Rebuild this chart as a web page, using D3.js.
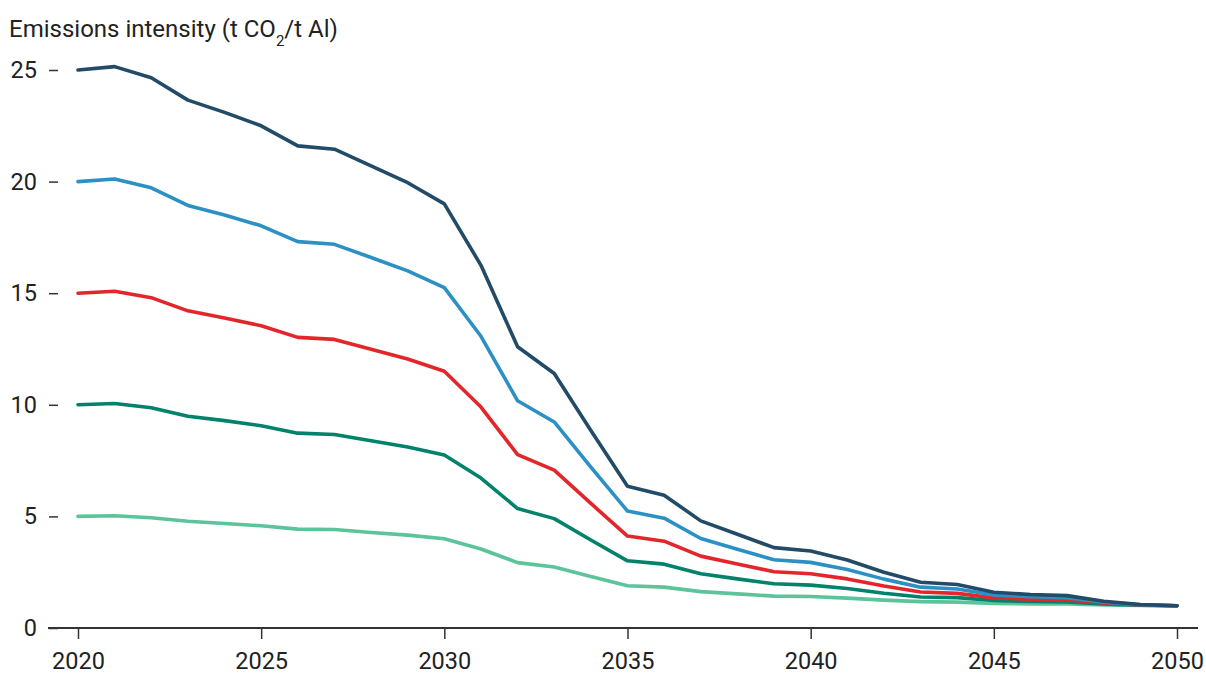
<!DOCTYPE html>
<html lang="en">
<head>
<meta charset="UTF-8">
<title>Emissions intensity</title>
<script src="https://d3js.org/d3.v7.min.js"></script>
<style>
  body { margin: 0; background: #fff; overflow: hidden; }
  text { font-family: Roboto, "Noto Sans", sans-serif; fill: #222; }
  .axis-title { font-size: 24px; }
  .tick-label { font-size: 23.5px; }
</style>
</head>
<body>
<svg id="chart"></svg>
<script>
const years = d3.range(2020, 2051);
const yTicks = [0, 5, 10, 15, 20, 25];
const xTicks = [2020, 2025, 2030, 2035, 2040, 2045, 2050];

const s25 = [25.0, 25.15, 24.65, 23.65, 23.1, 22.5, 21.6, 21.45, 20.7, 19.95, 19.0, 16.25, 12.6, 11.4, 8.85, 6.35, 5.95, 4.8, 4.2, 3.6, 3.45, 3.05, 2.5, 2.05, 1.95, 1.6, 1.5, 1.45, 1.2, 1.05, 1.0];
const s20 = [20.0, 20.12, 19.72, 18.93, 18.5, 18.02, 17.31, 17.19, 16.6, 16.0, 15.25, 13.07, 10.18, 9.23, 7.21, 5.24, 4.92, 4.01, 3.53, 3.06, 2.94, 2.62, 2.19, 1.83, 1.75, 1.48, 1.4, 1.36, 1.16, 1.04, 1.0];
const s15 = [15.0, 15.09, 14.8, 14.21, 13.89, 13.54, 13.02, 12.93, 12.49, 12.05, 11.5, 9.9, 7.77, 7.07, 5.58, 4.12, 3.89, 3.22, 2.87, 2.52, 2.43, 2.2, 1.88, 1.61, 1.55, 1.35, 1.29, 1.26, 1.12, 1.03, 1.0];
const s10 = [10.0, 10.06, 9.87, 9.49, 9.29, 9.06, 8.73, 8.67, 8.39, 8.11, 7.75, 6.72, 5.35, 4.9, 3.94, 3.01, 2.86, 2.43, 2.2, 1.98, 1.92, 1.77, 1.56, 1.39, 1.36, 1.23, 1.19, 1.17, 1.08, 1.02, 1.0];
const s5 = [5.0, 5.03, 4.94, 4.78, 4.68, 4.58, 4.43, 4.41, 4.28, 4.16, 4.0, 3.54, 2.93, 2.73, 2.31, 1.89, 1.83, 1.63, 1.53, 1.43, 1.41, 1.34, 1.25, 1.18, 1.16, 1.1, 1.08, 1.08, 1.03, 1.01, 1.0];

// drawn bottom-up so the dark line sits on top where they converge
const series = [
  { values: s5, color: "#5cc49b" },
  { values: s10, color: "#00836a" },
  { values: s15, color: "#e3262b" },
  { values: s20, color: "#2b91c5" },
  { values: s25, color: "#224b68" }
];

const width = 1206, height = 674;
const svg = d3.select("#chart").attr("width", width).attr("height", height);

const x = d3.scaleLinear().domain([2020, 2050]).range([78, 1177]);
const y = d3.scaleLinear().domain([0, 25]).range([628, 70]);

svg.append("text")
  .attr("class", "axis-title")
  .attr("x", 9)
  .attr("y", 37)
  .html('Emissions intensity (t CO<tspan baseline-shift="sub" font-size="15">2</tspan>/t Al)');

// y axis: labels plus short dashes
const yAxis = svg.append("g").attr("transform", "translate(58,0)")
  .call(d3.axisLeft(y).tickValues(yTicks).tickSize(9).tickPadding(12));
yAxis.select(".domain").remove();
yAxis.selectAll("line").attr("stroke", "#333").attr("stroke-width", 1.5);
yAxis.selectAll("text").attr("class", "tick-label").attr("font-size", null).attr("font-family", null);

// x axis
const xAxis = svg.append("g").attr("transform", "translate(0,628)")
  .call(d3.axisBottom(x).tickValues(xTicks).tickFormat(d3.format("d")).tickSize(11).tickPadding(13));
xAxis.select(".domain").attr("d", "M48,0H1198").attr("stroke", "#333").attr("stroke-width", 1.8);
xAxis.selectAll("line").attr("stroke", "#333").attr("stroke-width", 1.5);
xAxis.selectAll("text").attr("class", "tick-label").attr("font-size", null).attr("font-family", null);

const line = d3.line().x((d, i) => x(years[i])).y(d => y(d));

svg.append("g").selectAll("path")
  .data(series)
  .join("path")
  .attr("d", d => line(d.values))
  .attr("fill", "none")
  .attr("stroke", d => d.color)
  .attr("stroke-width", 3.6)
  .attr("stroke-linejoin", "round")
  .attr("stroke-linecap", "round");
</script>
</body>
</html>
